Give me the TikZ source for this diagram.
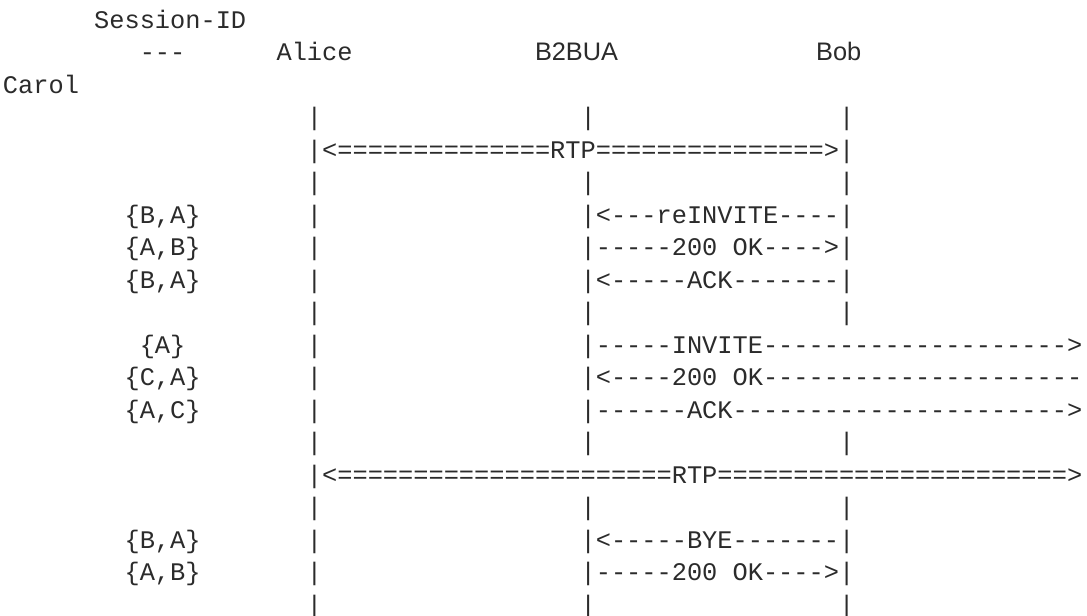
\documentclass[tikz,border=0pt]{standalone}
\usepackage{fontspec}
\setmonofont{Liberation Mono}
\setsansfont{Liberation Sans}
\definecolor{txtgray}{HTML}{2B2B2B}
\tikzset{
  monotext/.style ={anchor=base west, inner sep=0pt, outer sep=0pt,
                    font=\fontsize{19}{19}\selectfont\ttfamily, text=txtgray},
  sanstext/.style ={anchor=base west, inner sep=0pt, outer sep=0pt,
                    font=\fontsize{19}{19}\selectfont\sffamily, text=txtgray},
}

\begin{document}
\begin{tikzpicture}[x=11.4pt,y=-24.375pt]
  \fill[white] (-0.197,-0.8615) rectangle (71.316,18.092);
  \useasboundingbox (-0.197,-0.8615) rectangle (71.316,18.092);
  % header
  \node[monotext] (sessid) at (6,0)  {Session-ID};
  \node[monotext] (sep)    at (9,1)  {---};
  \node[monotext] (alice)  at (18,1) {Alice};
  \node[sanstext] (b2bua)  at (35,1) {B2BUA};
  \node[sanstext] (bob)    at (53.5,1) {Bob};
  \node[monotext] (carol)  at (0,2)  {Carol};
  % lifelines
  \foreach \r in {3,5,9,13,15,18}
    \foreach \c in {20,38,55}
      \node[monotext] (life-\r-\c) at (\c,\r) {|};
  \foreach \r in {6,7,8,10,11,12,16,17}
    \node[monotext] (life-\r-20) at (20,\r) {|};
  % session ids
  \node[monotext] (sid6)  at (8,6)  {\{B,A\}};
  \node[monotext] (sid7)  at (8,7)  {\{A,B\}};
  \node[monotext] (sid8)  at (8,8)  {\{B,A\}};
  \node[monotext] (sid10) at (9,10) {\{A\}};
  \node[monotext] (sid11) at (8,11) {\{C,A\}};
  \node[monotext] (sid12) at (8,12) {\{A,C\}};
  \node[monotext] (sid16) at (8,16) {\{B,A\}};
  \node[monotext] (sid17) at (8,17) {\{A,B\}};
  % messages
  \node[monotext] (rtpab)  at (20,4)  {|<==============RTP===============>|};
  \node[monotext] (reinv)  at (38,6)  {|<---reINVITE----|};
  \node[monotext] (okab)   at (38,7)  {|-----200 OK---->|};
  \node[monotext] (ackab)  at (38,8)  {|<-----ACK-------|};
  \node[monotext] (invite) at (38,10) {|-----INVITE-------------------->};
  \node[monotext] (okac)   at (38,11) {|<----200 OK---------------------};
  \node[monotext] (ackac)  at (38,12) {|------ACK---------------------->};
  \node[monotext] (rtpac)  at (20,14) {|<======================RTP=======================>};
  \node[monotext] (bye)    at (38,16) {|<-----BYE-------|};
  \node[monotext] (okbye)  at (38,17) {|-----200 OK---->|};
\end{tikzpicture}
\end{document}
